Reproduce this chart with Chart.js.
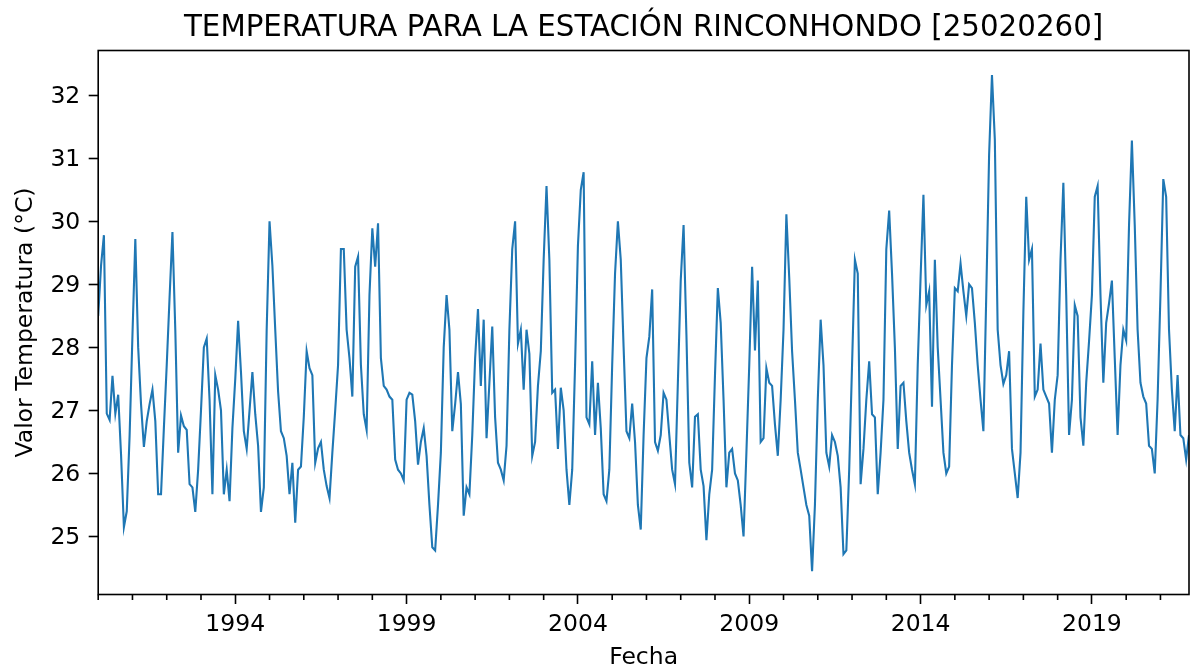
<!DOCTYPE html>
<html lang="es">
<head>
<meta charset="utf-8">
<title>Temperatura – Estación Rinconhondo</title>
<script src="https://cdn.jsdelivr.net/npm/chart.js@4.4.1/dist/chart.umd.min.js"></script>
<style>
  html, body { margin: 0; padding: 0; background: #ffffff; }
  #contenedor { width: 1190px; height: 668px; }
</style>
</head>
<body>
<div id="contenedor"><canvas id="grafico" width="1190" height="668"></canvas></div>
<script>
// Textos del gráfico
const tituloGrafico = 'TEMPERATURA PARA LA ESTACIÓN RINCONHONDO [25020260]';
const etiquetaEjeY = 'Valor Temperatura (°C)';
const etiquetaEjeX = 'Fecha';

// Serie mensual de temperatura media (°C), desde enero de 1990
const anioInicial = 1990;
const temperaturaMensual = [
  28.5, 29.3, 29.78, 26.95, 26.85, 27.55, 26.95, 27.25, 26.3, 25.15, 25.4, 26.6,     // 1990
  28.2, 29.72, 28.0, 27.1, 26.42, 26.83, 27.1, 27.33, 26.83, 25.67, 25.67, 26.72,    // 1991
  27.72, 28.8, 29.83, 28.28, 26.33, 26.92, 26.75, 26.69, 25.83, 25.78, 25.39, 26.06, // 1992
  27.0, 28.0, 28.14, 27.17, 25.67, 27.56, 27.33, 27.0, 25.67, 26.06, 25.56, 26.72,   // 1993
  27.5, 28.42, 27.61, 26.67, 26.39, 27.0, 27.61, 26.94, 26.44, 25.39, 25.78, 28.28,  // 1994
  30.0, 29.3, 28.28, 27.3, 26.67, 26.56, 26.28, 25.67, 26.17, 25.22, 26.06, 26.11,   // 1995
  26.9, 27.94, 27.67, 27.56, 26.17, 26.4, 26.5, 26.06, 25.8, 25.61, 26.33, 27.0,     // 1996
  27.72, 29.56, 29.56, 28.28, 27.83, 27.22, 29.28, 29.44, 27.72, 26.94, 26.69, 28.83,// 1997
  29.89, 29.28, 29.97, 27.83, 27.39, 27.33, 27.22, 27.17, 26.22, 26.06, 26.0, 25.89, // 1998
  27.17, 27.28, 27.25, 26.83, 26.14, 26.5, 26.72, 26.28, 25.5, 24.83, 24.78, 25.5,   // 1999
  26.33, 28.0, 28.83, 28.28, 26.67, 27.1, 27.61, 27.1, 25.33, 25.78, 25.67, 26.61,   // 2000
  27.83, 28.61, 27.39, 28.44, 26.56, 27.44, 28.33, 26.89, 26.17, 26.06, 25.89, 26.44,// 2001
  28.28, 29.56, 30.0, 28.06, 28.28, 27.33, 28.28, 27.9, 26.28, 26.5, 27.39, 27.94,   // 2002
  29.39, 30.56, 29.39, 27.28, 27.33, 26.39, 27.36, 27.0, 26.06, 25.5, 26.06, 27.72,  // 2003
  29.61, 30.5, 30.78, 26.89, 26.78, 27.78, 26.61, 27.44, 26.72, 25.67, 25.56, 26.06, // 2004
  27.72, 29.17, 30.0, 29.39, 28.0, 26.67, 26.56, 27.11, 26.5, 25.5, 25.11, 26.61,    // 2005
  27.83, 28.17, 28.92, 26.5, 26.36, 26.61, 27.28, 27.17, 26.61, 26.06, 25.83, 27.44, // 2006
  29.06, 29.94, 28.2, 26.17, 25.78, 26.9, 26.94, 26.06, 25.8, 24.94, 25.67, 26.06,   // 2007
  27.56, 28.94, 28.39, 27.17, 25.78, 26.33, 26.39, 26.0, 25.89, 25.5, 25.0, 26.33,   // 2008
  27.72, 29.28, 27.95, 29.06, 26.5, 26.56, 27.67, 27.44, 27.39, 26.78, 26.28, 27.17, // 2009
  28.28, 30.11, 29.11, 27.94, 27.17, 26.33, 26.06, 25.78, 25.5, 25.33, 24.45, 25.5,  // 2010
  27.17, 28.44, 27.72, 26.33, 26.11, 26.61, 26.5, 26.28, 25.78, 24.72, 24.78, 26.06, // 2011
  27.72, 29.39, 29.17, 25.83, 26.39, 27.17, 27.78, 26.94, 26.89, 25.67, 26.33, 27.17,// 2012
  29.56, 30.17, 29.17, 28.0, 26.39, 27.39, 27.44, 26.83, 26.33, 26.06, 25.83, 27.72, // 2013
  29.11, 30.42, 28.67, 28.89, 27.06, 29.39, 28.0, 27.17, 26.33, 26.0, 26.11, 27.72,  // 2014
  28.94, 28.89, 29.33, 28.89, 28.5, 29.0, 28.94, 28.39, 27.72, 27.17, 26.67, 28.83,  // 2015
  31.06, 32.32, 31.3, 28.28, 27.72, 27.42, 27.56, 27.94, 26.39, 26.0, 25.61, 26.33,  // 2016
  28.56, 30.39, 29.39, 29.56, 27.22, 27.33, 28.06, 27.33, 27.22, 27.11, 26.33, 27.17,// 2017
  27.56, 29.39, 30.61, 28.83, 26.61, 27.17, 28.67, 28.5, 26.89, 26.44, 27.44, 28.1,  // 2018
  28.83, 30.39, 30.56, 28.83, 27.44, 28.39, 28.7, 29.06, 27.83, 26.61, 27.72, 28.28, // 2019
  28.11, 29.94, 31.28, 29.94, 28.28, 27.44, 27.22, 27.11, 26.44, 26.39, 26.0, 27.17, // 2020
  28.83, 30.67, 30.39, 28.28, 27.33, 26.67, 27.56, 26.61, 26.56, 26.22, 26.61        // 2021 (ene–nov)
];

// Marcas de los ejes
const ticksY = [25, 26, 27, 28, 29, 30, 31, 32];
const aniosEtiquetados = [1994, 1999, 2004, 2009, 2014, 2019];
const aniosMenores = [1990, 1991, 1992, 1993, 1995, 1996, 1997, 1998, 2000, 2001, 2002, 2003,
  2005, 2006, 2007, 2008, 2010, 2011, 2012, 2013, 2015, 2016, 2017, 2018, 2020, 2021];

// Límites del eje de temperatura
const limitesY = [24.08, 32.71];

const puntos = temperaturaMensual.map((t, i) => ({ x: anioInicial + i / 12, y: t }));

Chart.defaults.font.family = "'DejaVu Sans', 'Liberation Sans', sans-serif";
Chart.defaults.color = '#000';

// Marco completo del área de trazado y marcas menores de los años
const marcoYMarcasMenores = {
  id: 'marcoYMarcasMenores',
  afterDatasetsDraw(chart) {
    const { ctx, chartArea: a, scales: { x } } = chart;
    ctx.save();
    ctx.strokeStyle = '#000';
    ctx.lineWidth = 1.6;
    ctx.beginPath();
    for (const anio of aniosMenores) {
      const px = x.getPixelForValue(anio);
      ctx.moveTo(px, a.bottom);
      ctx.lineTo(px, a.bottom + 5.5);
    }
    ctx.stroke();
    ctx.strokeRect(a.left, a.top, a.right - a.left, a.bottom - a.top);
    ctx.restore();
  }
};

new Chart(document.getElementById('grafico'), {
  type: 'line',
  data: {
    datasets: [{
      data: puntos,
      borderColor: '#1f77b4',
      borderWidth: 2.1,
      pointRadius: 0,
      tension: 0,
      fill: false
    }]
  },
  options: {
    responsive: false,
    devicePixelRatio: 1,
    animation: false,
    events: [],
    layout: { padding: { left: 0, right: 1, top: 0, bottom: 0 } },
    plugins: {
      legend: { display: false },
      tooltip: { enabled: false },
      title: {
        display: true,
        fullSize: false,
        text: tituloGrafico,
        color: '#000',
        font: { size: 29.3, weight: 'normal', lineHeight: 1 },
        padding: { top: 13.5, bottom: 7.7 }
      }
    },
    scales: {
      x: {
        type: 'linear',
        min: anioInicial,
        max: anioInicial + (temperaturaMensual.length - 1) / 12,
        afterBuildTicks: s => { s.ticks = aniosEtiquetados.map(v => ({ value: v })); },
        afterFit: s => { s.height = 73.5; },
        ticks: {
          font: { size: 23.5 },
          color: '#000',
          padding: 6.8,
          autoSkip: false,
          maxRotation: 0,
          callback: v => String(v)
        },
        grid: { drawOnChartArea: false, tickLength: 9.5, tickWidth: 1.6, tickColor: '#000' },
        border: { display: false },
        title: {
          display: true,
          text: etiquetaEjeX,
          color: '#000',
          font: { size: 23.5, lineHeight: 1 },
          padding: { top: 0, bottom: -2 }
        }
      },
      y: {
        min: limitesY[0],
        max: limitesY[1],
        afterBuildTicks: s => { s.ticks = ticksY.map(v => ({ value: v })); },
        afterFit: s => { s.width = 98.2; },
        ticks: {
          font: { size: 23.5 },
          color: '#000',
          padding: 8.4,
          labelOffset: 1.5,
          callback: v => String(v)
        },
        grid: { drawOnChartArea: false, tickLength: 9.5, tickWidth: 1.6, tickColor: '#000' },
        border: { display: false },
        title: {
          display: true,
          text: etiquetaEjeY,
          color: '#000',
          font: { size: 23.5, lineHeight: 1 },
          padding: { top: 14.5, bottom: 0 }
        }
      }
    }
  },
  plugins: [marcoYMarcasMenores]
});
</script>
</body>
</html>
